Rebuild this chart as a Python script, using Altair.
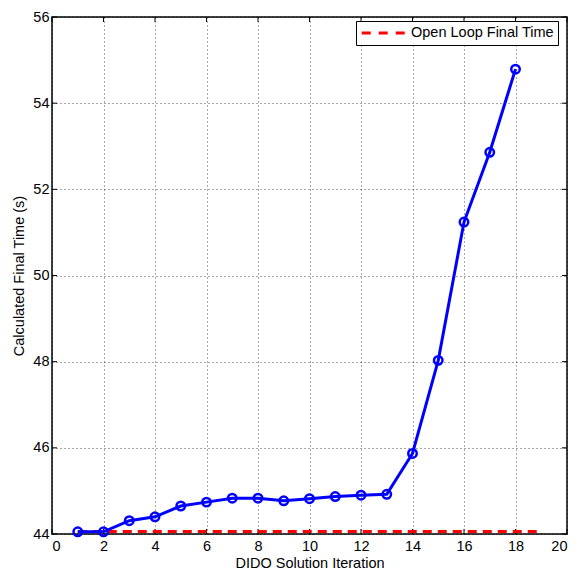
import altair as alt
import pandas as pd

iterations = list(range(1, 19))
final_time = [44.05, 44.05, 44.31, 44.40, 44.65, 44.74, 44.83, 44.83, 44.77,
              44.82, 44.87, 44.90, 44.92, 45.87, 48.03, 51.24, 52.86, 54.79]
open_loop_x = [1, 19]
open_loop_y = [44.06, 44.06]
x_ticks = [0, 2, 4, 6, 8, 10, 12, 14, 16, 18, 20]
y_ticks = [44, 46, 48, 50, 52, 54, 56]

W, H = 515, 517
FONT = "Liberation Sans"
FS = 14.5

df = pd.DataFrame({"iter": iterations, "t": final_time})
ol = pd.DataFrame({"iter": open_loop_x, "t": open_loop_y,
                   "series": ["Open Loop Final Time"] * 2})
xt = pd.DataFrame({"v": x_ticks})
yt = pd.DataFrame({"v": y_ticks})

xs = alt.Scale(domain=[0, 20], nice=False, zero=False)
ys = alt.Scale(domain=[44, 56], nice=False, zero=False)

xaxis = alt.Axis(values=x_ticks, title="DIDO Solution Iteration", grid=True,
                 gridDash=[1, 3], gridColor="#000", gridOpacity=0.7,
                 tickSize=0, domain=False, labelPadding=5, titlePadding=4)
yaxis = alt.Axis(values=y_ticks, title="Calculated Final Time (s)", grid=True,
                 gridDash=[1, 3], gridColor="#000", gridOpacity=0.7,
                 tickSize=0, domain=False, labelPadding=3, titlePadding=6)

line = alt.Chart(df).mark_line(color="#0000ff", strokeWidth=3).encode(
    x=alt.X("iter:Q", scale=xs, axis=xaxis),
    y=alt.Y("t:Q", scale=ys, axis=yaxis),
)
pts = alt.Chart(df).mark_point(shape="circle", filled=False, color="#0000ff",
                               size=72, strokeWidth=2.5, opacity=1).encode(
    x=alt.X("iter:Q", scale=xs),
    y=alt.Y("t:Q", scale=ys),
)
ref = alt.Chart(ol).mark_line(strokeWidth=3, strokeDash=[9, 6]).encode(
    x=alt.X("iter:Q", scale=xs),
    y=alt.Y("t:Q", scale=ys),
    color=alt.Color("series:N", scale=alt.Scale(domain=["Open Loop Final Time"], range=["#ff0000"]),
                    legend=alt.Legend(title=None, orient="none", legendX=304, legendY=4,
                                      strokeColor="black", fillColor="white",
                                      padding=4, symbolType="stroke",
                                      symbolStrokeWidth=3, symbolDash=[9, 8],
                                      symbolSize=1900, clipHeight=16,
                                      labelFontSize=FS, labelOffset=4,
                                      labelFont=FONT, labelColor="black")),
)
tb = alt.Chart(xt).mark_rule(color="black").encode(
    x=alt.X("v:Q", scale=xs), y=alt.value(H), y2=alt.value(H - 5))
tt = alt.Chart(xt).mark_rule(color="black").encode(
    x=alt.X("v:Q", scale=xs), y=alt.value(0), y2=alt.value(5))
tl = alt.Chart(yt).mark_rule(color="black").encode(
    y=alt.Y("v:Q", scale=ys), x=alt.value(0), x2=alt.value(5))
tr = alt.Chart(yt).mark_rule(color="black").encode(
    y=alt.Y("v:Q", scale=ys), x=alt.value(W), x2=alt.value(W - 5))

chart = alt.layer(tb, tt, tl, tr, ref, line, pts).properties(
    width=W, height=H, padding={"left": 3, "top": 1, "right": 2, "bottom": 2}
).configure_view(stroke="black", strokeWidth=1.5).configure_axis(
    labelFont=FONT, titleFont=FONT, labelFontSize=FS, titleFontSize=FS,
    labelColor="black", titleColor="black", titleFontWeight="normal"
)

chart.save("out.html", embed_options={"renderer": "svg", "actions": False})
